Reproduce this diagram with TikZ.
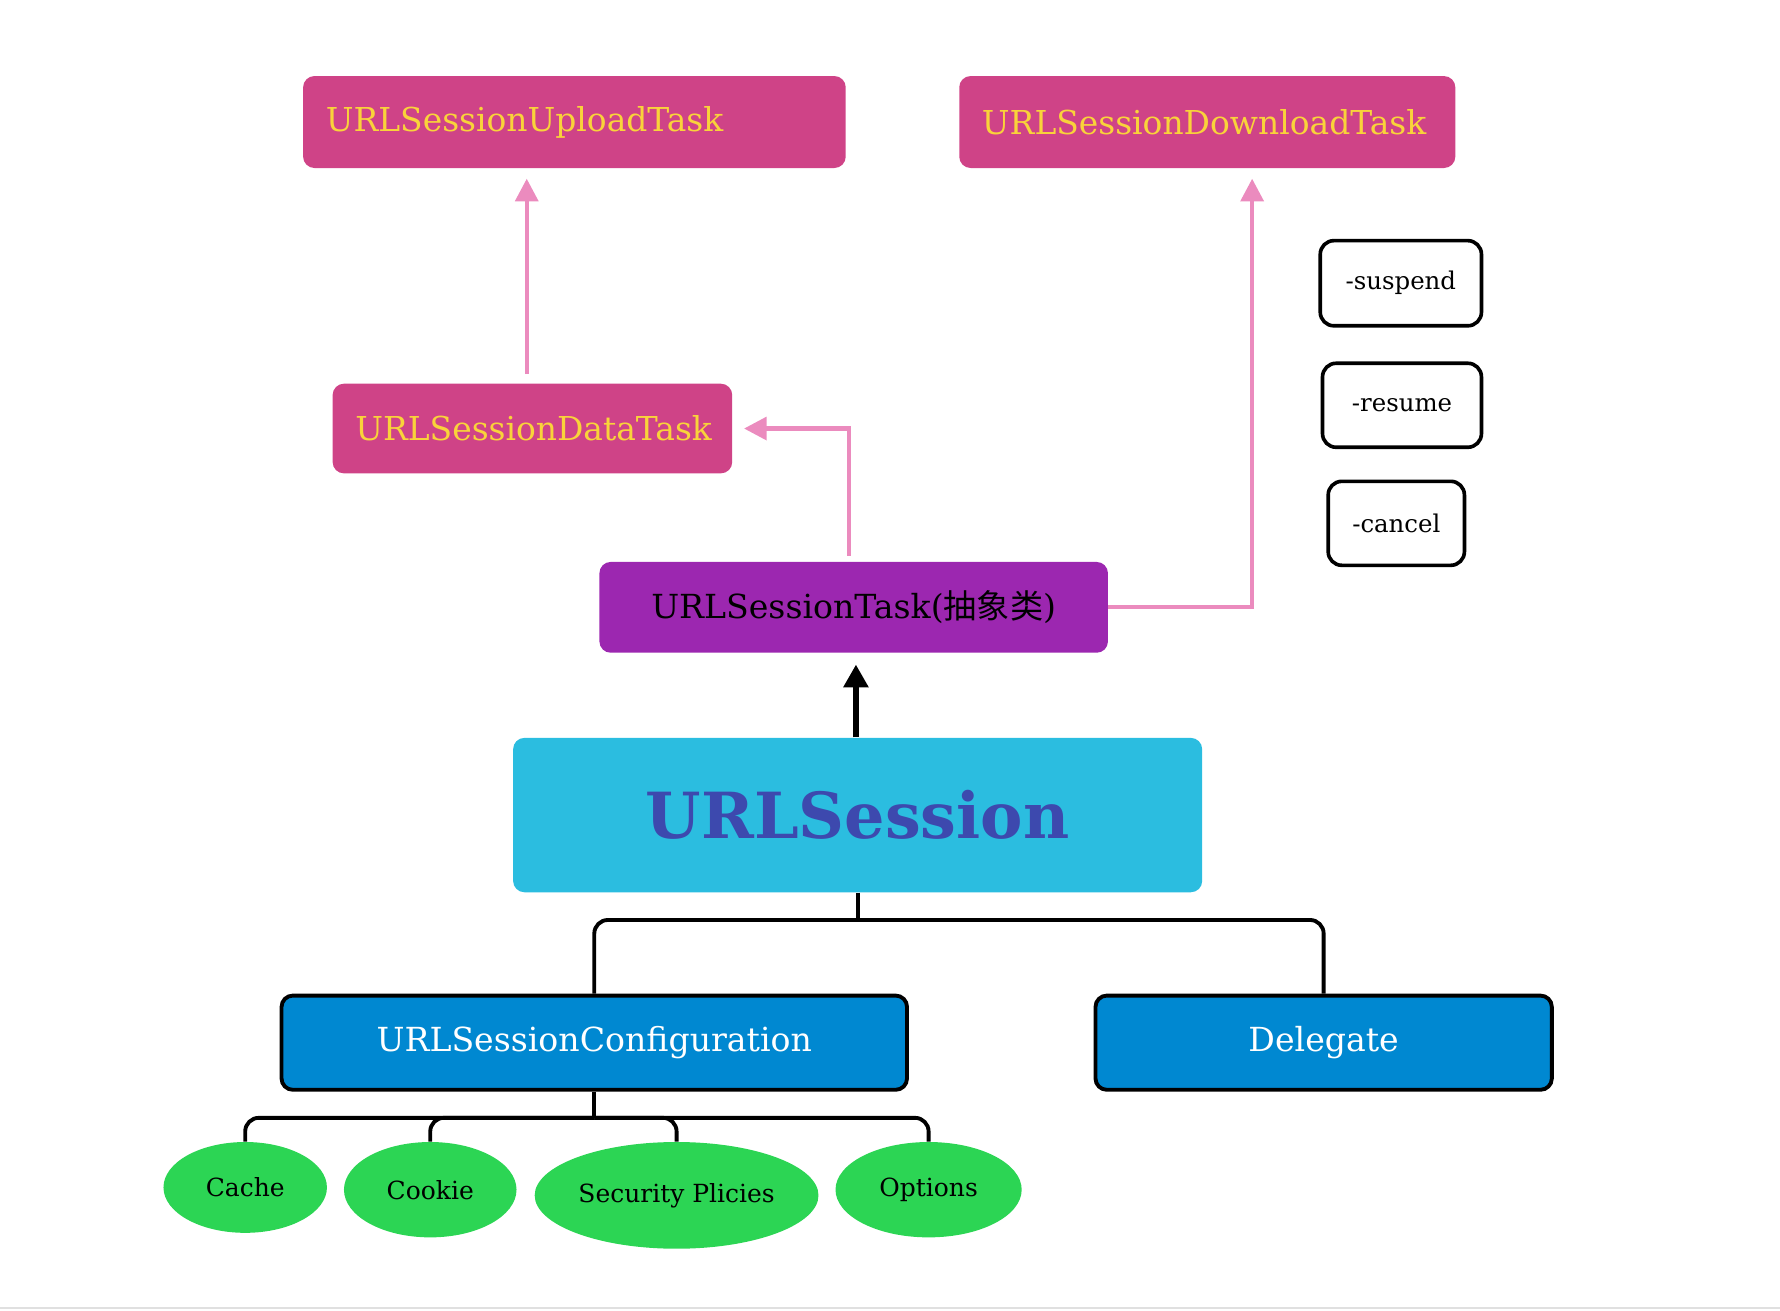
\documentclass[tikz,border=0pt]{standalone}
\usepackage{fontspec}
\setmainfont{DejaVu Serif}
\newfontfamily\cjk{Noto Sans CJK SC}
\usetikzlibrary{arrows.meta,shapes.geometric}

\definecolor{tareapink}{HTML}{CF4387}
\definecolor{tareayellow}{HTML}{F9D33A}
\definecolor{tareapurple}{HTML}{9C27B0}
\definecolor{sesioncyan}{HTML}{2BBDE0}
\definecolor{sesionblue}{HTML}{3D49AE}
\definecolor{confblue}{HTML}{0088D1}
\definecolor{hojagreen}{HTML}{2CD554}
\definecolor{lineapink}{HTML}{EB8BBE}

\tikzset{
  tarea/.style={rectangle, rounded corners=5pt, fill=tareapink, text=tareayellow,
    font=\fontsize{14.5}{18}\selectfont, inner xsep=10pt, inner ysep=0pt, align=flush left},
  caja/.style={rectangle, rounded corners=5pt, inner sep=0pt, font=\fontsize{14.6}{18}\selectfont},
  metodo/.style={rectangle, rounded corners=6pt, draw=black, line width=1.6pt, fill=white,
    inner sep=0pt, font=\fontsize{10.75}{13}\selectfont},
  hoja/.style={ellipse, fill=hojagreen, inner sep=0pt, font=\fontsize{11}{13}\selectfont},
  flechapink/.style={draw=lineapink, line width=1.9pt, -{Triangle[width=10pt,length=10pt]}},
  rama/.style={draw=black, line width=1.7pt, rounded corners=6pt},
}

\begin{document}
\begin{tikzpicture}[x=0.5pt, y=-0.5pt]
    \useasboundingbox (0,0) rectangle (1568,1154);

    % Tareas
    \node[tarea, text width=219pt, minimum height=40.5pt] (upload) at (506,107.5) {URLSessionUploadTask};
    \node[tarea, text width=198.5pt, minimum height=40.5pt] (download) at (1063.5,107.5) {URLSessionDownloadTask};
    \node[tarea, text width=156pt, minimum height=39.5pt] (data) at (469,377.5) {URLSessionDataTask};
    \node[caja, fill=tareapurple, minimum width=224pt, minimum height=40pt] (task) at (752,535)
        {URLSessionTask({\cjk 抽象类})};

    % Sesion
    \node[caja, fill=sesioncyan, text=sesionblue, minimum width=303.5pt, minimum height=68pt,
        font=\fontsize{28}{32}\selectfont\bfseries] (session) at (755.5,718) {URLSession};
    \node[caja, fill=confblue, text=white, draw=black, line width=1.7pt,
        minimum width=275.5pt, minimum height=41.5pt] (config) at (523.5,918.5) {URLSessionConfiguration};
    \node[caja, fill=confblue, text=white, draw=black, line width=1.7pt,
        minimum width=201pt, minimum height=41.5pt] (delegate) at (1166,918.5) {Delegate};

    % Metodos
    \node[metodo, minimum width=71pt, minimum height=37.5pt] (suspend) at (1234,249.5) {-suspend};
    \node[metodo, minimum width=70pt, minimum height=37pt] (resume) at (1235,357) {-resume};
    \node[metodo, minimum width=60pt, minimum height=37pt] (cancel) at (1230,461) {-cancel};

    % Hojas
    \node[hoja, minimum width=72pt, minimum height=40pt] (cache) at (216,1046) {Cache};
    \node[hoja, minimum width=76pt, minimum height=42pt] (cookie) at (379,1048) {Cookie};
    \node[hoja, minimum width=125pt, minimum height=47pt] (security) at (596,1053) {Security Plicies};
    \node[hoja, minimum width=82pt, minimum height=42pt] (options) at (818,1048) {Options};

    % Herencia
    \draw[flechapink, shorten <=4pt, shorten >=4.5pt] ([xshift=-2.5pt]data.north) -- ([xshift=-21pt]upload.south);
    \draw[flechapink, shorten <=2.5pt, shorten >=5pt] ([xshift=-2pt]task.north) |- (data.east);
    \draw[flechapink, shorten >=4.5pt] (task.east) -| ([xshift=19.75pt]download.south);
    \draw[line width=2.6pt, -{Triangle[width=10.5pt,length=10pt]}, shorten >=5pt] ([xshift=-0.75pt]session.north) -- ([xshift=1pt]task.south);

    % Ramas
    \path (session.south) ++(0,24) coordinate (sbus);
    \path (config.south) ++(0,23) coordinate (cbus);
    \draw[rama] (session.south) -- (sbus);
    \draw[rama] (config.north) |- (sbus) -| (delegate.north);
    \draw[rama] (config.south) -- (cbus);
    \foreach \h in {cache,cookie,security,options}
        \draw[rama] (cbus) -| (\h.north);

    % Linea inferior
    \draw[black!12, line width=0.8pt] (0,1152) -- (1568,1152);
\end{tikzpicture}
\end{document}
